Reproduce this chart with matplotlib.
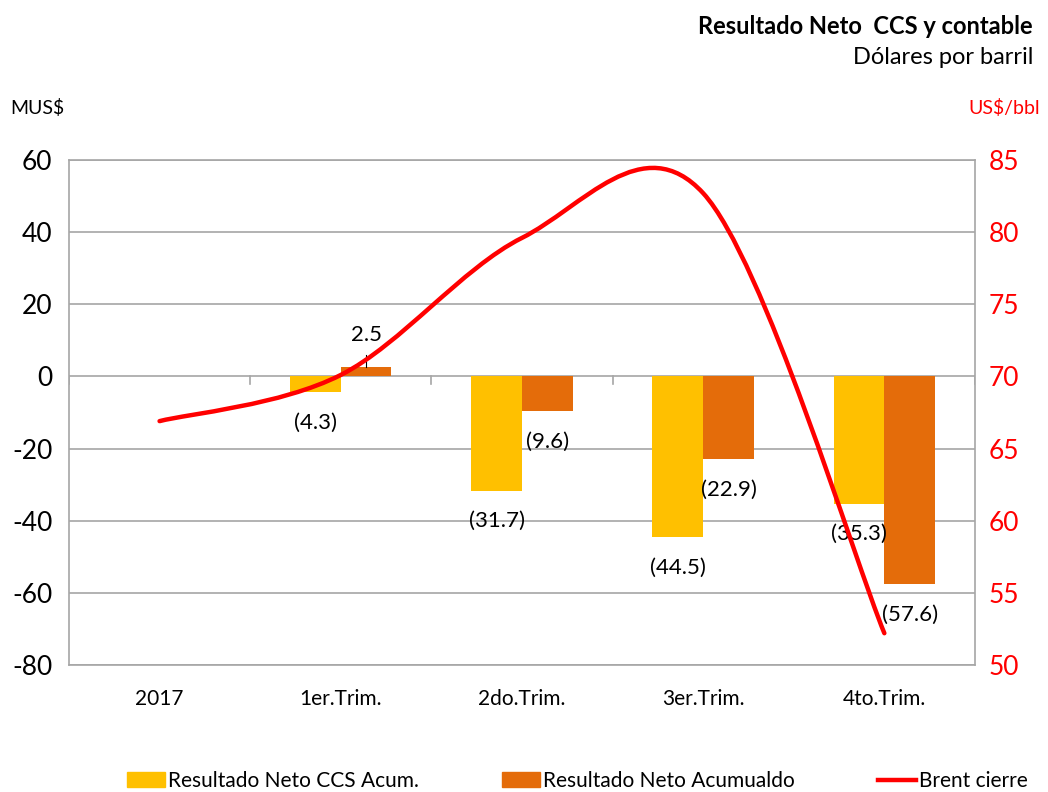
import numpy as np
import matplotlib.pyplot as plt
from matplotlib.path import Path
from matplotlib.patches import PathPatch, Patch
from matplotlib.lines import Line2D

plt.rcParams['font.family'] = ['Lato', 'DejaVu Sans']
plt.rcParams['axes.unicode_minus'] = False

# Data
categories = ['2017', '1er.Trim.', '2do.Trim.', '3er.Trim.', '4to.Trim.']
ccs_acum = [np.nan, -4.3, -31.7, -44.5, -35.3]
neto_acum = [np.nan, 2.5, -9.6, -22.9, -57.6]
brent = [66.9, 70.1, 79.6, 82.7, 52.2]

yellow = '#FFC000'
orange = '#E46C0A'
grid_c = '#A6A6A6'

fig = plt.figure(figsize=(10.48, 7.92), dpi=100)
ax = fig.add_axes([0.0658, 0.1604, 0.8645, 0.6376])
ax2 = ax.twinx()

x = np.arange(len(categories))
w = 0.28
ax.bar(x - w / 2, ccs_acum, w, color=yellow, zorder=2)
ax.bar(x + w / 2, neto_acum, w, color=orange, zorder=2)

ax.set_xlim(-0.5, len(categories) - 0.5)
ax.set_ylim(-80, 60)
ax.set_yticks(range(-80, 61, 20))
ax.yaxis.grid(True, color=grid_c, linewidth=1.2, zorder=0)
ax.set_axisbelow(True)
ax.tick_params(axis='y', length=0, labelsize=19, pad=12)
ax.set_xticks(x)
ax.set_xticklabels(categories, fontsize=15)
ax.tick_params(axis='x', length=0, pad=17)
for s in ax.spines.values():
    s.set_color(grid_c)
    s.set_linewidth(1.2)

# tick marks on the zero line at category boundaries
for b in np.arange(-0.5, len(categories)):
    ax.plot([b, b], [0, -2.2], color=grid_c, linewidth=1.2, zorder=1)

# data labels
def fmt(v):
    return '(%.1f)' % abs(v) if v < 0 else '%.1f' % v

for i in range(len(categories)):
    for v, xx in ((ccs_acum[i], x[i] - w / 2), (neto_acum[i], x[i] + w / 2)):
        if np.isnan(v):
            continue
        if v < 0:
            ax.annotate(fmt(v), (xx, v), xytext=(0, -22), textcoords='offset points',
                        ha='center', va='center', fontsize=16, zorder=5)
        else:
            ax.annotate(fmt(v), (xx, v), xytext=(0, 23), textcoords='offset points',
                        ha='center', va='center', fontsize=16, zorder=5)
            ax.plot([xx, xx], [v, v + 3.4], color='black', linewidth=0.8, zorder=5)

# smoothed Brent line (Excel-like bezier smoothing)
pts = np.column_stack([x, brent]).astype(float)
n = len(pts)
verts = [pts[0]]
codes = [Path.MOVETO]
for i in range(n - 1):
    p_prev = pts[i - 1] if i > 0 else pts[i]
    p_next2 = pts[i + 2] if i + 2 < n else pts[i + 1]
    c1 = pts[i] + (pts[i + 1] - p_prev) / 6
    c2 = pts[i + 1] - (p_next2 - pts[i]) / 6
    verts += [c1, c2, pts[i + 1]]
    codes += [Path.CURVE4] * 3
ax2.add_patch(PathPatch(Path(verts, codes), facecolor='none', edgecolor='#FF0000',
                        linewidth=3.2, capstyle='round', zorder=4))
ax2.set_ylim(50, 85)
ax2.set_yticks(range(50, 86, 5))
ax2.tick_params(axis='y', length=0, labelsize=19, labelcolor='#FF0000', pad=10)
for s in ax2.spines.values():
    s.set_visible(False)
ax.set_zorder(1)
ax2.set_zorder(2)
ax2.patch.set_visible(False)

# texts
fig.text(1033 / 1048, 1 - 27 / 792, 'Resultado Neto  CCS y contable', ha='right', va='center',
         fontsize=17, fontweight='bold')
fig.text(1033 / 1048, 1 - 58 / 792, 'Dólares por barril', ha='right', va='center', fontsize=17)
fig.text(10 / 1048, 1 - 108 / 792, 'MUS$', ha='left', va='center', fontsize=14)
fig.text(1040 / 1048, 1 - 108 / 792, 'US$/bbl', ha='right', va='center', fontsize=14,
         color='#FF0000')

handles = [Patch(color=yellow), Patch(color=orange), Line2D([], [], color='#FF0000', linewidth=3.2)]
labels = ['Resultado Neto CCS Acum.', 'Resultado Neto Acumualdo', 'Brent cierre']
fig.legend(handles, labels, loc='center', bbox_to_anchor=(0.551, 1 - 781 / 792), ncol=3,
           frameon=False, fontsize=15, columnspacing=4.0, handlelength=1.8,
           handletextpad=0.15, handleheight=0.7)

fig.savefig('out.png', dpi=100)
